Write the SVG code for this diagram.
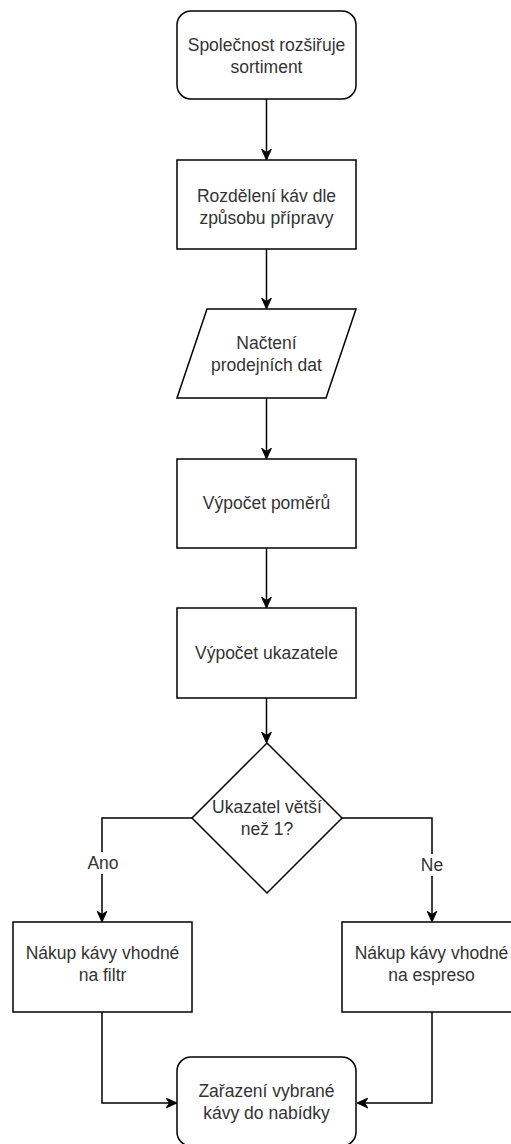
<svg xmlns="http://www.w3.org/2000/svg" width="511" height="1144" viewBox="0 0 511 1144">
<style>
.shape{fill:#ffffff;stroke:#000000;stroke-width:1.5}
.lbl{font-family:"Liberation Sans",Arial,Helvetica,sans-serif;font-size:17.5px;fill:#333333;text-anchor:middle;dominant-baseline:central}
.edge{fill:none;stroke:#000000;stroke-width:1.5}
.elbl{font-family:"Liberation Sans",Arial,Helvetica,sans-serif;font-size:17.5px;fill:#333333;text-anchor:middle;dominant-baseline:central}
</style>
<defs>
<marker id="arr" viewBox="0 0 10 10" refX="9" refY="5" markerWidth="11" markerHeight="11" markerUnits="userSpaceOnUse" orient="auto">
<path d="M0,0.5 L10,5 L0,9.5 L3,5 z" fill="#000000" stroke="#000000" stroke-width="0.8"/>
</marker>
</defs>
<rect width="511" height="1144" fill="#ffffff"/>
<g id="connectors">
<path class="edge" d="M266.5,99 L266.5,159" marker-end="url(#arr)"/>
<path class="edge" d="M266.5,249 L266.5,308" marker-end="url(#arr)"/>
<path class="edge" d="M266.5,398 L266.5,458" marker-end="url(#arr)"/>
<path class="edge" d="M266.5,548 L266.5,607" marker-end="url(#arr)"/>
<path class="edge" d="M266.5,698 L266.5,742" marker-end="url(#arr)"/>
<path class="edge" d="M192,818 L102,818 L102,921" marker-end="url(#arr)"/>
<path class="edge" d="M342,818 L432,818 L432,921" marker-end="url(#arr)"/>
<path class="edge" d="M102,1012 L102,1103 L176,1103" marker-end="url(#arr)"/>
<path class="edge" d="M432,1012 L432,1103 L358,1103" marker-end="url(#arr)"/>
<rect x="87" y="852" width="32" height="22" fill="#ffffff"/>
<text class="elbl" x="103" y="863">Ano</text>
<rect x="420" y="854" width="24" height="22" fill="#ffffff"/>
<text class="elbl" x="432" y="865">Ne</text>
</g>
<g id="start">
<rect class="shape" x="177" y="11" width="179" height="88" rx="14" ry="14"/>
<text class="lbl" x="266.5" y="44.5">Společnost rozšiřuje</text>
<text class="lbl" x="266.5" y="66.5">sortiment</text>
</g>
<g id="rozdeleni">
<rect class="shape" x="177" y="160" width="179" height="89"/>
<text class="lbl" x="266.5" y="196">Rozdělení káv dle</text>
<text class="lbl" x="266.5" y="218">způsobu přípravy</text>
</g>
<g id="nacteni">
<polygon class="shape" points="207,309 356,309 326,398 177,398"/>
<text class="lbl" x="266.5" y="343">Načtení</text>
<text class="lbl" x="266.5" y="365">prodejních dat</text>
</g>
<g id="pomery">
<rect class="shape" x="177" y="459" width="179" height="89"/>
<text class="lbl" x="266.5" y="503">Výpočet poměrů</text>
</g>
<g id="ukazatel">
<rect class="shape" x="177" y="608" width="179" height="90"/>
<text class="lbl" x="266.5" y="653">Výpočet ukazatele</text>
</g>
<g id="rozhodnuti">
<polygon class="shape" points="267,743 342,818 267,893 192,818"/>
<text class="lbl" x="267" y="807">Ukazatel větší</text>
<text class="lbl" x="267" y="829">než 1?</text>
</g>
<g id="filtr">
<rect class="shape" x="13" y="922" width="179" height="90"/>
<text class="lbl" x="102.5" y="953">Nákup kávy vhodné</text>
<text class="lbl" x="102.5" y="975">na filtr</text>
</g>
<g id="espreso">
<rect class="shape" x="342" y="922" width="179" height="90"/>
<text class="lbl" x="431.5" y="953">Nákup kávy vhodné</text>
<text class="lbl" x="431.5" y="975">na espreso</text>
</g>
<g id="zarazeni">
<rect class="shape" x="177" y="1057" width="179" height="89" rx="14" ry="14"/>
<text class="lbl" x="266.5" y="1091">Zařazení vybrané</text>
<text class="lbl" x="266.5" y="1113">kávy do nabídky</text>
</g>
</svg>
